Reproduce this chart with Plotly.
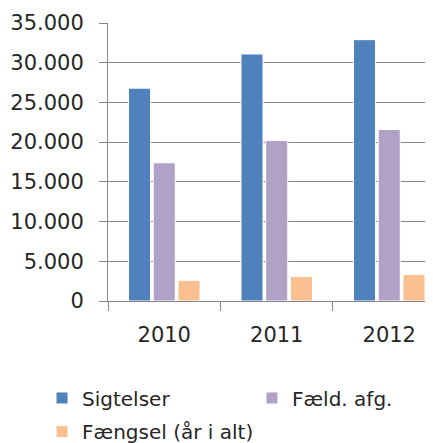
import plotly.graph_objects as go

years = ["2010", "2011", "2012"]
sigtelser = [26800, 31100, 32900]
faeld_afg = [17400, 20200, 21600]
faengsel = [2600, 3100, 3350]
y_ticks = [0, 5000, 10000, 15000, 20000, 25000, 30000, 35000]

series = [
    ("Sigtelser", sigtelser, "#4F81BD", "legend"),
    ("Fæld. afg.", faeld_afg, "#B2A1C7", "legend2"),
    ("Fængsel (år i alt)", faengsel, "#FAC090", "legend3"),
]

fig = go.Figure()
for name, vals, col, lg in series:
    fig.add_trace(go.Bar(
        x=years, y=vals, name=name, legend=lg,
        marker=dict(color=col, line=dict(color="#ffffff", width=1)),
    ))

font = "DejaVu Sans"
txt = "#262626"
leg_common = dict(
    orientation="h", xanchor="left", yanchor="middle",
    font=dict(family=font, size=20, color=txt),
    bgcolor="rgba(0,0,0,0)", borderwidth=0,
)
fig.update_layout(
    width=425, height=443,
    margin=dict(l=100, r=0, t=15, b=149),
    paper_bgcolor="white", plot_bgcolor="white",
    separators=",.",
    barmode="group", bargap=0.34, bargroupgap=0.11,
    font=dict(family=font, size=21, color=txt),
    showlegend=True,
    legend=dict(x=-0.203, y=-0.344, **leg_common),
    legend2=dict(x=0.443, y=-0.344, **leg_common),
    legend3=dict(x=-0.203, y=-0.470, **leg_common),
    xaxis=dict(
        type="category", range=[-0.5, 2.389],
        showline=True, linecolor="#868686", linewidth=1,
        ticks="outside", tickson="boundaries", ticklen=9, tickcolor="#868686",
        showgrid=False, ticklabelstandoff=15,
        tickfont=dict(family=font, size=21, color=txt),
    ),
    yaxis=dict(
        range=[0, 35000], tickvals=y_ticks, tickformat=",d",
        showline=True, linecolor="#868686", linewidth=1,
        ticks="outside", ticklen=8, tickcolor="#868686",
        showgrid=True, gridcolor="#868686", gridwidth=1,
        zeroline=False, ticklabelstandoff=11,
        tickfont=dict(family=font, size=21, color=txt),
    ),
)

fig.write_html("out.html")
